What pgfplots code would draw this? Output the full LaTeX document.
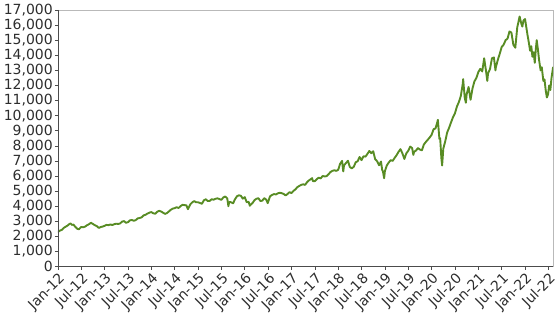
\documentclass[border=0pt]{standalone}
\usepackage{fontspec}
\setmainfont{DejaVu Sans}
\usepackage{pgfplots}
\pgfplotsset{compat=1.18}
\definecolor{linegreen}{RGB}{88,140,36}
\definecolor{txt}{RGB}{45,45,45}
\begin{document}
\begin{tikzpicture}
\path (-58bp,-49bp) rectangle (502bp,267bp);
\begin{axis}[
 at={(0,0)}, anchor=south west,
 scale only axis, width=496bp, height=257bp,
 xmin=0, xmax=127.2, ymin=0, ymax=17000,
 xtick={0,6,...,126},
 xticklabels={Jan-12,Jul-12,Jan-13,Jul-13,Jan-14,Jul-14,Jan-15,Jul-15,Jan-16,Jul-16,Jan-17,Jul-17,Jan-18,Jul-18,Jan-19,Jul-19,Jan-20,Jul-20,Jan-21,Jul-21,Jan-22,Jul-22},
 ytick={0,1000,...,17000},
 scaled y ticks=false,
 /pgf/number format/fixed,
 /pgf/number format/1000 sep={,},
 /pgf/number format/assume math mode=true,
 tick label style={font=\fontsize{14bp}{16bp}\selectfont, text=txt},
 xticklabel style={rotate=45, anchor=north east, inner sep=1.5bp},
 yticklabel style={inner sep=2bp},
 tick align=outside, major tick length=3bp,
 xtick pos=bottom, ytick pos=left,
 tick style={black!70, line width=0.6pt},
 axis line style={draw=gray!55, line width=0.8pt},
]
\addplot[linegreen, line width=1.9pt, line join=round, line cap=round] coordinates {
(0,2300)(0.3,2340)(0.5,2380)(1,2430)(1.5,2560)(2,2640)(2.5,2720)(3,2830)(3.3,2850)(3.6,2760)(4,2780)(4.5,2620)(5,2500)(5.4,2470)(5.8,2580)(6,2620)(6.5,2600)(7,2650)(7.5,2740)(8,2810)(8.5,2900)(9,2820)(9.5,2740)(10,2680)(10.5,2560)(11,2620)(11.5,2650)
(12,2700)(12.5,2760)(13,2740)(13.5,2790)(14,2750)(14.5,2810)(15,2840)(15.5,2820)(16,2860)(16.5,2980)(17,3010)(17.5,2900)(18,2940)(18.5,3060)(19,3090)(19.5,3030)(20,3080)(20.5,3190)(21,3220)(21.5,3260)(22,3390)(22.5,3430)(23,3510)(23.5,3570)
(24,3610)(24.5,3530)(25,3500)(25.5,3630)(26,3690)(26.5,3650)(27,3570)(27.5,3490)(28,3540)(28.5,3650)(29,3760)(29.5,3840)(30,3870)(30.5,3930)(31,3880)(31.5,4000)(32,4090)(32.5,4070)(33,4060)(33.4,3800)(34,4120)(34.5,4250)(35,4340)(35.5,4260)
(36,4260)(36.5,4210)(37,4160)(37.5,4390)(38,4460)(38.5,4340)(39,4350)(39.5,4460)(40,4430)(40.5,4490)(41,4520)(41.5,4470)(42,4420)(42.5,4580)(43,4640)(43.5,4520)(43.8,4000)(44,4280)(44.5,4260)(45,4190)(45.5,4460)(46,4660)(46.5,4720)(47,4690)(47.5,4500)
(48,4600)(48.5,4260)(49,4290)(49.3,4030)(49.6,4120)(50,4210)(50.5,4400)(51,4490)(51.5,4530)(52,4350)(52.5,4360)(53,4530)(53.5,4440)(53.9,4200)(54.2,4430)(54.5,4660)(55,4740)(55.5,4800)(56,4780)(56.5,4850)(57,4890)(57.5,4860)(58,4810)(58.5,4710)(59,4810)(59.5,4930)
(60,4870)(60.5,5010)(61,5110)(61.5,5260)(62,5340)(62.5,5410)(63,5450)(63.5,5410)(64,5590)(64.5,5710)(65,5800)(65.3,5860)(65.5,5660)(66,5660)(66.5,5790)(67,5890)(67.5,5840)(68,6000)(68.5,5970)(69,5990)(69.5,6110)(70,6260)(70.5,6340)(71,6380)(71.5,6340)
(72,6410)(72.5,6810)(73,7000)(73.3,6300)(73.5,6700)(74,6860)(74.5,7010)(75,6590)(75.5,6510)(76,6610)(76.5,6910)(77,6980)(77.5,7260)(78,7050)(78.5,7310)(79,7280)(79.5,7460)(80,7660)(80.5,7510)(81,7640)(81.5,7110)(82,6980)(82.5,6710)(83,6960)(83.3,6400)(83.5,6300)(83.8,5850)(84,6330)
(84.5,6700)(85,6900)(85.5,7050)(86,7000)(86.5,7200)(87,7380)(87.5,7600)(88,7780)(88.5,7500)(89,7130)(89.5,7500)(90,7670)(90.5,7950)(91,7850)(91.3,7400)(91.5,7600)(92,7690)(92.5,7850)(93,7750)(93.5,7700)(94,8080)(94.5,8250)(95,8400)(95.5,8550)
(96,8730)(96.5,9100)(97,9150)(97.5,9600)(97.6,9720)(98,8460)(98.2,8500)(98.5,7200)(98.7,6700)(99,7810)(99.5,8300)(100,8890)(100.5,9200)(101,9560)(101.5,9900)(102,10160)(102.5,10600)(103,10900)(103.5,11300)(104,12110)(104.1,12420)(104.5,11200)(104.8,10850)(105,11420)(105.5,11900)(106,11050)(106.5,11800)(107,12270)(107.5,12500)
(108,12890)(108.5,13100)(109,12930)(109.5,13800)(110,12910)(110.3,12300)(110.5,12800)(111,13090)(111.5,13800)(112,13860)(112.4,13000)(112.5,13200)(113,13690)(113.5,14100)(114,14550)(114.5,14700)(115,15000)(115.5,15100)(116,15580)(116.5,15500)(117,14690)(117.5,14500)
(118,15850)(118.3,16200)(118.6,16570)(119,16140)(119.3,15900)(119.6,16300)(120,16400)(120.3,15900)(120.6,15400)(121,14800)(121.3,14300)(121.6,14600)(121.9,13900)(122.2,14200)(122.5,13500)(122.8,14500)(123,15000)(123.3,14400)(123.6,13700)(124,13000)(124.3,13200)(124.7,12300)(125,12400)(125.3,11700)(125.6,11200)(125.9,11400)(126.2,12000)(126.5,11700)(126.8,12500)(127.2,13200)
};
\draw[black!70, line width=0.8pt] (rel axis cs:0,1) -- (rel axis cs:0,0) -- (rel axis cs:1,0);
\end{axis}
\end{tikzpicture}
\end{document}
